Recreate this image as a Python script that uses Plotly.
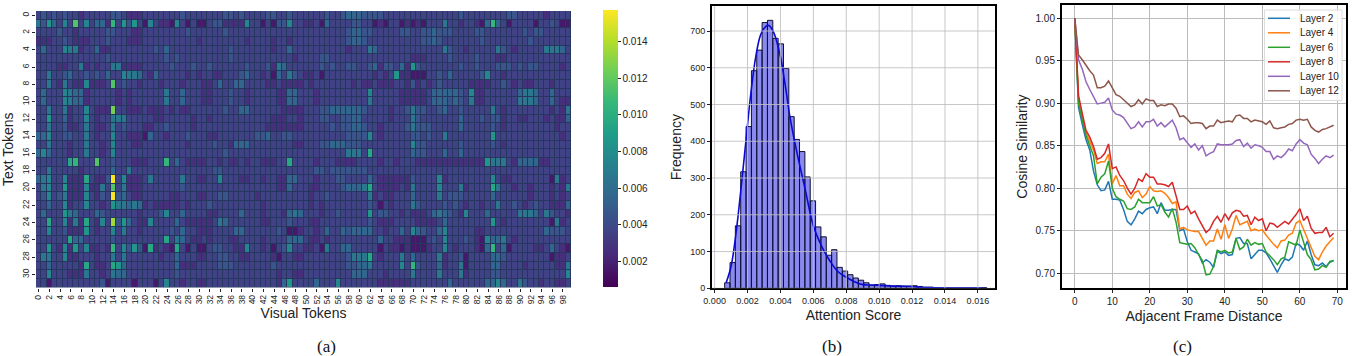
import plotly.graph_objects as go

FONT = "Liberation Sans"
TXT = "#222222"
W, H = 1353, 356

# ---------- panel (a): one character per cell (hex, 0.001 steps)
heat_rows = [
"3434343323 3333443222 3333333433 3333344343 3334433433 3333433455 5444433333 3333333334 3333333344 3333323333",
"6485373b37 3552a38483 1732217313 1134422227 3313144733 2231533334 4331213312 1213336332 33215a5313 3331334311",
"3333433233 3334433322 3333333343 3333343333 3333333333 3333333345 5443333344 3344544433 3344333333 3434433333",
"2223343222 3334333222 3333333333 2333333332 3333233233 3333333345 5433333333 3344543333 3334333333 3343333333",
"3533376623 3522333333 3343533333 3333334333 3333233533 3333333323 3365333333 3333336433 2333336432 3333366653",
"3333333333 3334333333 3333434333 3333334333 3333333323 3334433333 3333333333 2223333433 3343332233 3333333333",
"3333223362 3233662222 3333343334 3343333334 3334265333 3334343344 3345244352 8433333334 3343334443 4344333323",
"3363345334 3435337665 3253333323 2332233345 3323153643 2231333333 3332323822 1113343533 3334733233 3333333333",
"3363263227 2223b34332 3332333233 3223533553 3332232222 3233333332 3223222332 4232343333 3222233432 3223332333",
"3533376552 3333323233 3333633533 3223334332 3333322553 3323333333 3373333322 2223555554 3722333333 5665335333",
"3533376552 3333323233 3333633533 3223334332 3333322553 3323333333 3363333322 2223555454 3622333333 6665335322",
"3363362337 3222c33222 3222323223 3333343355 3333332222 3334455555 5433332334 6443345334 3333363233 3333332326",
"3383352337 3233666333 3322333332 3323333333 3333222332 3334433445 5333332333 6433333335 3334344233 2233323225",
"3363342236 3223634333 2233433332 3333333333 3332222222 3333343445 5433233334 6444333335 3333343233 3333333233",
"5573344336 3233733222 1533233343 3322333333 3445334433 3333333344 4473233333 4434336333 3333383333 3333333323",
"3363332336 3323733322 3333333323 3334332555 3333333322 3334455544 4333333333 7443333334 3333343233 3333333333",
"5753332336 3323733333 3333333333 3333343333 3333333333 3333333366 6393333333 5443335335 3333333333 3333333333",
"3333339a33 3b33433322 2333a35322 2233232232 3322233933 3323332222 3333233233 3222222222 2222866632 5555223333",
"3363333323 3333533633 3333333333 3334433333 3333333333 3344344444 4433333333 3333333333 3333333333 3333333333",
"5673372229 3224f37222 3633333633 2233733322 3323322553 3323334433 3353222222 4333372333 3333373223 3333331623",
"3673382227 2263b36222 3333333433 3333333333 3333322533 3223333455 5693222232 6333373336 2333396332 3323332326",
"3473462227 3243f45322 3333322333 2233443333 3233333333 3233433333 3362322333 5333363444 3333353333 3323332323",
"3353372337 3323866565 2322222323 3343333333 3323333333 3232333333 3343132333 6433334343 2332336334 3234332225",
"3533386533 3543333332 3334733533 3322333353 3323332565 3332334333 3383443323 2223565432 7333533333 6665364332",
"3393372629 3273d48532 2733335322 2223653333 3322333433 3223333333 3343222333 3222235333 3333383233 3333331623",
"3373342228 3233736332 3333343533 2223333553 3333343112 3323533545 5553323353 7543357333 3322333333 3333354443",
"3333339553 3333433333 3333936532 2323332233 3323333555 3223233333 3333533222 1113437333 4321755632 3333333333",
"3383272837 2232a37484 1923219313 1134433227 3323134733 2231633553 3333132212 1112337323 33215a3513 3332235321",
"3663372233 3233636333 3332335333 2233443322 3333213322 3333333346 6693233363 5333362334 1333355433 3333331223",
"3353333329 3223985333 3333335222 3333444333 3333433333 3333333344 5563333373 a433352336 1333355333 3233333226",
"3373332226 3323655333 3333334333 3333333333 3333323322 3333333335 5533323333 6333363336 2333344333 3333333337",
"3313333333 3341333313 3313733233 2233333333 3333325833 3353337333 3333222222 3333333533 3333557533 6433233223",
]
heat_values = [[int(c, 16) * 0.001 + 0.0006 for c in r.replace(" ", "")] for r in heat_rows]
heat_x = list(range(100))
heat_y = list(range(32))

# ---------- panel (b)
hist_start, hist_width = 0.00061, 0.000325
hist_counts = [15, 70, 170, 317, 440, 592, 648, 723, 729, 680, 665, 598, 467, 405, 372,
               303, 238, 167, 140, 90, 105, 57, 47, 37, 28, 22, 15, 8, 10, 12,
               8, 6, 7, 6, 6, 7, 5, 3, 3, 1, 1, 1, 1, 1, 1, 1, 1, 1, 2]
kde_x = [0.0007, 0.001, 0.0013, 0.0016, 0.0019, 0.0022, 0.0025, 0.0028, 0.0031, 0.0033,
         0.0036, 0.004, 0.0043, 0.0046, 0.005, 0.0055, 0.006, 0.0065, 0.007, 0.0075,
         0.008, 0.0085, 0.009, 0.0095, 0.01, 0.011, 0.012, 0.0125, 0.013, 0.014, 0.016, 0.0164]
kde_y = [15, 60, 150, 270, 400, 530, 630, 690, 712, 715,
         695, 630, 550, 460, 370, 270, 170, 115, 75, 45,
         30, 18, 10, 9, 8, 6, 5, 3, 2, 1, 0.5, 0]

# ---------- panel (c)
layer_2 = [1.0, .895, .875, .857, .845, .820, .804, .797, .798, .808, .787, .787, .786, .775, .761, .757, .764, .773, .770, .775,
           .777, .778, .770, .783, .774, .774, .775, .775, .750, .752, .737, .727, .725, .723, .712, .716, .713, .707, .726, .723,
           .725, .721, .722, .741, .742, .735, .735, .717, .722, .727, .727, .724, .717, .709, .701, .710, .717, .715, .719, .735,
           .733, .727, .738, .722, .710, .709, .712, .708, .713, .715]
layer_4 = [1.0, .905, .885, .865, .855, .845, .829, .831, .831, .840, .805, .815, .803, .803, .793, .788, .795, .797, .789, .793,
           .802, .797, .796, .797, .794, .789, .782, .784, .752, .754, .751, .750, .749, .749, .741, .733, .738, .738, .752, .740,
           .757, .741, .752, .768, .757, .759, .761, .750, .752, .750, .751, .745, .739, .734, .730, .738, .739, .745, .747, .759,
           .762, .752, .742, .730, .720, .716, .725, .732, .737, .742]
layer_6 = [1.0, .900, .880, .862, .850, .838, .805, .813, .817, .832, .800, .790, .787, .785, .776, .775, .778, .787, .783, .783,
           .783, .790, .779, .781, .772, .766, .776, .760, .736, .735, .734, .735, .730, .722, .715, .698, .699, .708, .727, .725,
           .727, .724, .725, .741, .728, .731, .740, .733, .736, .734, .735, .725, .721, .716, .710, .717, .719, .737, .735, .733,
           .751, .736, .722, .716, .704, .705, .709, .707, .714, .715]
layer_8 = [1.0, .909, .888, .868, .860, .849, .834, .836, .841, .852, .823, .825, .815, .809, .800, .793, .800, .811, .808, .817,
           .813, .813, .805, .805, .804, .802, .807, .792, .775, .775, .779, .770, .773, .764, .755, .748, .752, .761, .767, .760,
           .770, .763, .771, .774, .773, .767, .768, .757, .766, .762, .764, .750, .759, .758, .754, .758, .761, .758, .763, .769,
           .776, .762, .767, .753, .747, .748, .748, .754, .743, .747]
layer_10 = [1.0, .951, .940, .925, .916, .907, .899, .900, .901, .906, .892, .887, .886, .883, .876, .870, .872, .878, .872, .878,
            .878, .881, .873, .877, .872, .876, .880, .871, .857, .859, .853, .848, .852, .845, .850, .838, .841, .843, .852, .851,
            .851, .851, .852, .856, .857, .849, .853, .847, .851, .850, .848, .843, .843, .834, .838, .836, .840, .846, .844, .852,
            .857, .853, .851, .840, .835, .829, .834, .838, .836, .839]
layer_12 = [1.0, .9565, .951, .944, .938, .933, .918, .918, .920, .926, .917, .910, .908, .904, .899, .896, .898, .904, .899, .905,
            .903, .903, .896, .898, .897, .899, .899, .894, .884, .885, .881, .876, .877, .877, .876, .870, .873, .873, .880, .877,
            .878, .879, .878, .885, .886, .882, .882, .878, .880, .879, .878, .875, .879, .871, .870, .871, .872, .875, .876, .880,
            .881, .880, .881, .872, .868, .866, .869, .870, .872, .874]
layer_names = ["Layer 2", "Layer 4", "Layer 6", "Layer 8", "Layer 10", "Layer 12"]
layer_series = [layer_2, layer_4, layer_6, layer_8, layer_10, layer_12]
layer_colors = ["#1f77b4", "#ff7f0e", "#2ca02c", "#d62728", "#9467bd", "#8c564b"]

b_xticks = [0.000, 0.002, 0.004, 0.006, 0.008, 0.010, 0.012, 0.014, 0.016]
b_yticks = [0, 100, 200, 300, 400, 500, 600, 700]
captions = ["(a)", "(b)", "(c)"]
caption_x = [326, 832, 1182]

fx = lambda p: p / W
fy = lambda p: 1 - p / H

fig = go.Figure()

fig.add_trace(go.Heatmap(
    z=heat_values, x=heat_x, y=heat_y, colorscale="Viridis", zmin=0.00058, zmax=0.01575,
    xgap=1, ygap=1, hoverongaps=False, xaxis="x", yaxis="y",
    colorbar=dict(x=fx(603), xanchor="left", xpad=0, ypad=0, thickness=15, thicknessmode="pixels",
                  len=277 / H, lenmode="fraction", y=fy(10), yanchor="top", outlinewidth=0,
                  tickvals=[0.002, 0.004, 0.006, 0.008, 0.010, 0.012, 0.014], tickformat=".3f",
                  ticks="outside", ticklen=3, tickcolor=TXT, tickfont=dict(family=FONT, size=10, color=TXT)),
))

fig.add_trace(go.Bar(
    x=[hist_start + (i + 0.5) * hist_width for i in range(len(hist_counts))], y=hist_counts, width=hist_width,
    marker=dict(color="rgba(40,40,225,0.55)", line=dict(color="#101030", width=1)),
    xaxis="x2", yaxis="y2", showlegend=False,
))
fig.add_trace(go.Scatter(x=kde_x, y=kde_y, mode="lines", line=dict(color="#0a0ad2", width=1.6, shape="spline"),
                         xaxis="x2", yaxis="y2", showlegend=False))

for name, series, color in zip(layer_names, layer_series, layer_colors):
    fig.add_trace(go.Scatter(x=list(range(len(series))), y=series, mode="lines", name=name, showlegend=False,
                             line=dict(color=color, width=1.5), xaxis="x3", yaxis="y3"))

shapes = [dict(type="rect", xref="x domain", yref="y domain", x0=0, x1=1, y0=0, y1=1, layer="below",
               fillcolor="#26375f", line=dict(width=0))]
grid_col = "rgba(190,190,190,0.85)"
for v in b_xticks:
    shapes.append(dict(type="line", xref="x2", yref="y2 domain", x0=v, x1=v, y0=0, y1=1, layer="above",
                       line=dict(color=grid_col, width=1)))
for v in b_yticks:
    shapes.append(dict(type="line", xref="x2 domain", yref="y2", x0=0, x1=1, y0=v, y1=v, layer="above",
                       line=dict(color=grid_col, width=1)))

annotations = [dict(text=t, x=fx(px), y=fy(346), xref="paper", yref="paper", showarrow=False, xanchor="center",
                    yanchor="middle", font=dict(family="Liberation Serif", size=17, color="#111111"))
               for t, px in zip(captions, caption_x)]

# compact legend box (row pitch tighter than Plotly's built-in legend allows)
shapes.append(dict(type="rect", xref="paper", yref="paper", x0=fx(1264.5), x1=fx(1342), y0=fy(100.5), y1=fy(10),
                   layer="above", fillcolor="rgba(255,255,255,0.85)", line=dict(color="#dcdcdc", width=1)))
for i, (name, color) in enumerate(zip(layer_names, layer_colors)):
    row = 18.3 + 14.5 * i
    shapes.append(dict(type="line", xref="paper", yref="paper", x0=fx(1268), x1=fx(1290), y0=fy(row), y1=fy(row),
                       layer="above", line=dict(color=color, width=1.5)))
    annotations.append(dict(text=name, x=fx(1298), y=fy(row), xref="paper", yref="paper", showarrow=False,
                            xanchor="left", yanchor="middle", font=dict(family=FONT, size=10, color=TXT)))

tick12 = dict(family=FONT, size=8.5, color=TXT)
title14 = dict(family=FONT, size=14, color=TXT)
frame = dict(showline=True, linecolor="#000000", linewidth=2, mirror=True, ticks="outside", ticklen=3,
             tickcolor=TXT, automargin=False, zeroline=False)

fig.update_layout(
    width=W, height=H, margin=dict(l=0, r=0, t=0, b=0), paper_bgcolor="white", plot_bgcolor="white",
    font=dict(family=FONT, color=TXT), shapes=shapes, annotations=annotations, barmode="overlay", showlegend=False,
    xaxis=dict(domain=[fx(36), fx(571)], range=[-0.5, 99.5], tickvals=heat_x[::2], tickangle=-90, tickfont=tick12,
               ticks="outside", ticklen=3, tickcolor=TXT, title=dict(text="Visual Tokens", font=title14, standoff=4),
               showgrid=False, zeroline=False, automargin=False, anchor="y"),
    yaxis=dict(domain=[fy(287.5), fy(11)], range=[31.5, -0.5], tickvals=heat_y[::2], tickangle=-90, tickfont=tick12,
               ticks="outside", ticklen=3, tickcolor=TXT, title=dict(text="Text Tokens", font=title14, standoff=4),
               showgrid=False, zeroline=False, automargin=False, anchor="x"),
    xaxis2=dict(domain=[fx(712), fx(995)], range=[-0.00016, 0.01704], tickvals=b_xticks, tickformat=".3f",
                tickfont=dict(family=FONT, size=9, color=TXT), title=dict(text="Attention Score", font=title14, standoff=5),
                showgrid=False, anchor="y2", **frame),
    yaxis2=dict(domain=[fy(288.3), fy(6)], range=[0, 768], tickvals=b_yticks,
                tickfont=dict(family=FONT, size=9, color=TXT), title=dict(text="Frequency", font=title14, standoff=5),
                showgrid=False, anchor="x2", **frame),
    xaxis3=dict(domain=[fx(1062), fx(1346)], range=[-3.4, 72.3], tickvals=[0, 10, 20, 30, 40, 50, 60, 70],
                tickfont=dict(family=FONT, size=10, color=TXT), title=dict(text="Adjacent Frame Distance", font=title14, standoff=5),
                showgrid=True, gridcolor="#bcbcbc", gridwidth=1, anchor="y3", **frame),
    yaxis3=dict(domain=[fy(288), fy(5)], range=[0.6827, 1.0153], tickvals=[0.70, 0.75, 0.80, 0.85, 0.90, 0.95, 1.00], tickformat=".2f",
                tickfont=dict(family=FONT, size=10, color=TXT), title=dict(text="Cosine Similarity", font=title14, standoff=5),
                showgrid=True, gridcolor="#bcbcbc", gridwidth=1, anchor="x3", **frame),
)

fig.write_html("out.html", config={"displayModeBar": False}, post_script="document.body.style.margin='0';")
